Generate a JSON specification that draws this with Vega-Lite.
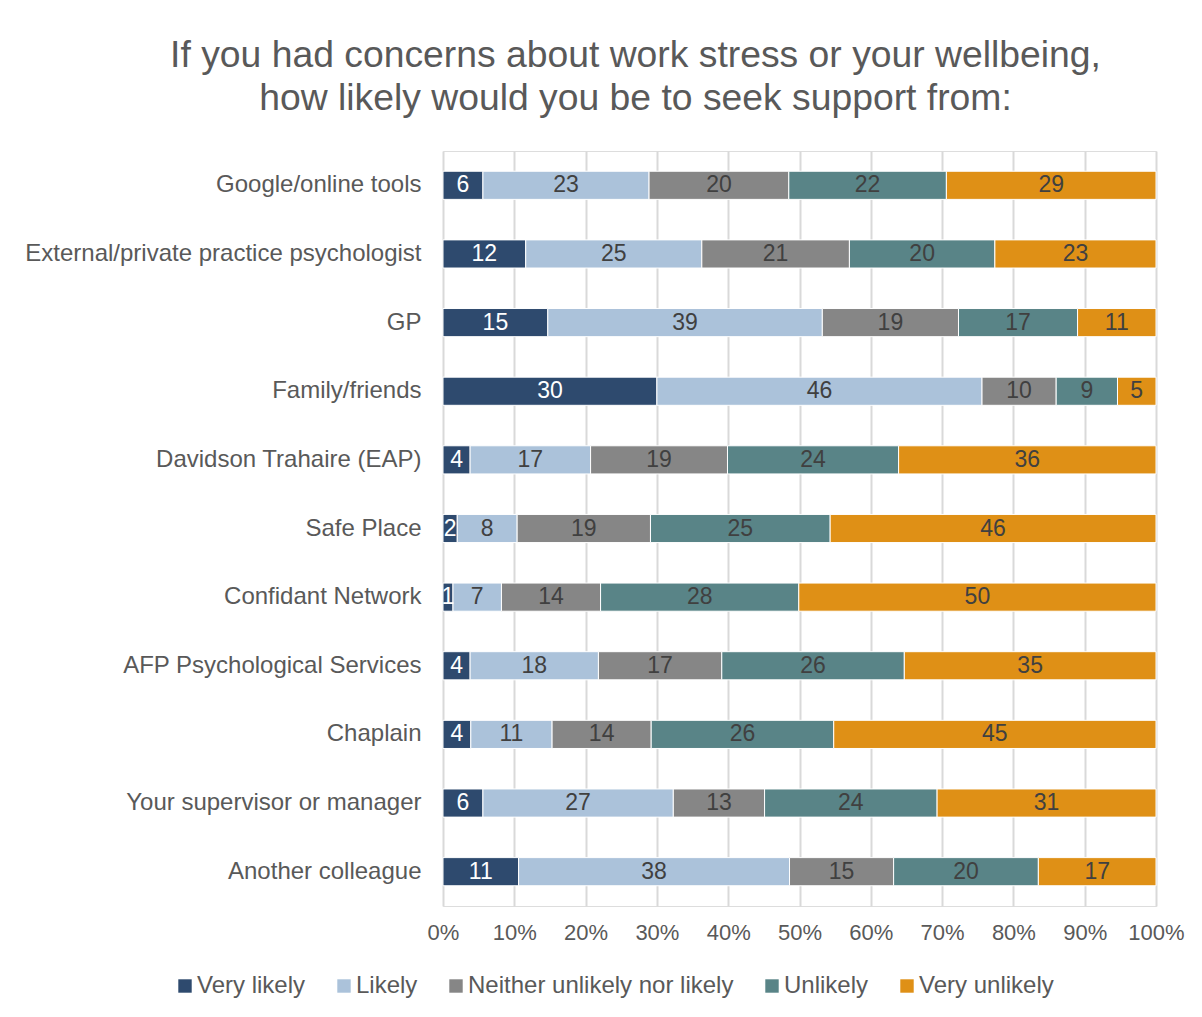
{
  "$schema": "https://vega.github.io/schema/vega-lite/v6.json",
  "width": 713,
  "height": 755,
  "autosize": {"type": "none"},
  "padding": {"left": 443, "top": 151, "right": 46, "bottom": 111},
  "background": "white",
  "title": {
    "text": ["If you had concerns about work stress or your wellbeing,", "how likely would you be to seek support from:"],
    "anchor": "middle",
    "frame": "group",
    "dx": -164,
    "offset": 33,
    "fontSize": 37.3,
    "lineHeight": 43,
    "font": "Liberation Sans",
    "fontWeight": "normal",
    "color": "#595959"
  },
  "data": {
    "values": [
      {"source": "Google/online tools", "response": "Very likely", "k": 1, "pct": 5.6},
      {"source": "Google/online tools", "response": "Likely", "k": 2, "pct": 23.3},
      {"source": "Google/online tools", "response": "Neither unlikely nor likely", "k": 3, "pct": 19.6},
      {"source": "Google/online tools", "response": "Unlikely", "k": 4, "pct": 22.1},
      {"source": "Google/online tools", "response": "Very unlikely", "k": 5, "pct": 29.4},
      {"source": "External/private practice psychologist", "response": "Very likely", "k": 1, "pct": 11.6},
      {"source": "External/private practice psychologist", "response": "Likely", "k": 2, "pct": 24.7},
      {"source": "External/private practice psychologist", "response": "Neither unlikely nor likely", "k": 3, "pct": 20.7},
      {"source": "External/private practice psychologist", "response": "Unlikely", "k": 4, "pct": 20.4},
      {"source": "External/private practice psychologist", "response": "Very unlikely", "k": 5, "pct": 22.6},
      {"source": "GP", "response": "Very likely", "k": 1, "pct": 14.7},
      {"source": "GP", "response": "Likely", "k": 2, "pct": 38.5},
      {"source": "GP", "response": "Neither unlikely nor likely", "k": 3, "pct": 19.1},
      {"source": "GP", "response": "Unlikely", "k": 4, "pct": 16.7},
      {"source": "GP", "response": "Very unlikely", "k": 5, "pct": 11.0},
      {"source": "Family/friends", "response": "Very likely", "k": 1, "pct": 30.0},
      {"source": "Family/friends", "response": "Likely", "k": 2, "pct": 45.6},
      {"source": "Family/friends", "response": "Neither unlikely nor likely", "k": 3, "pct": 10.4},
      {"source": "Family/friends", "response": "Unlikely", "k": 4, "pct": 8.6},
      {"source": "Family/friends", "response": "Very unlikely", "k": 5, "pct": 5.4},
      {"source": "Davidson Trahaire (EAP)", "response": "Very likely", "k": 1, "pct": 3.8},
      {"source": "Davidson Trahaire (EAP)", "response": "Likely", "k": 2, "pct": 16.9},
      {"source": "Davidson Trahaire (EAP)", "response": "Neither unlikely nor likely", "k": 3, "pct": 19.2},
      {"source": "Davidson Trahaire (EAP)", "response": "Unlikely", "k": 4, "pct": 24.0},
      {"source": "Davidson Trahaire (EAP)", "response": "Very unlikely", "k": 5, "pct": 36.1},
      {"source": "Safe Place", "response": "Very likely", "k": 1, "pct": 2.0},
      {"source": "Safe Place", "response": "Likely", "k": 2, "pct": 8.4},
      {"source": "Safe Place", "response": "Neither unlikely nor likely", "k": 3, "pct": 18.7},
      {"source": "Safe Place", "response": "Unlikely", "k": 4, "pct": 25.2},
      {"source": "Safe Place", "response": "Very unlikely", "k": 5, "pct": 45.7},
      {"source": "Confidant Network", "response": "Very likely", "k": 1, "pct": 1.4},
      {"source": "Confidant Network", "response": "Likely", "k": 2, "pct": 6.8},
      {"source": "Confidant Network", "response": "Neither unlikely nor likely", "k": 3, "pct": 13.9},
      {"source": "Confidant Network", "response": "Unlikely", "k": 4, "pct": 27.8},
      {"source": "Confidant Network", "response": "Very unlikely", "k": 5, "pct": 50.1},
      {"source": "AFP Psychological Services", "response": "Very likely", "k": 1, "pct": 3.8},
      {"source": "AFP Psychological Services", "response": "Likely", "k": 2, "pct": 18.0},
      {"source": "AFP Psychological Services", "response": "Neither unlikely nor likely", "k": 3, "pct": 17.3},
      {"source": "AFP Psychological Services", "response": "Unlikely", "k": 4, "pct": 25.6},
      {"source": "AFP Psychological Services", "response": "Very unlikely", "k": 5, "pct": 35.3},
      {"source": "Chaplain", "response": "Very likely", "k": 1, "pct": 3.9},
      {"source": "Chaplain", "response": "Likely", "k": 2, "pct": 11.4},
      {"source": "Chaplain", "response": "Neither unlikely nor likely", "k": 3, "pct": 13.9},
      {"source": "Chaplain", "response": "Unlikely", "k": 4, "pct": 25.6},
      {"source": "Chaplain", "response": "Very unlikely", "k": 5, "pct": 45.2},
      {"source": "Your supervisor or manager", "response": "Very likely", "k": 1, "pct": 5.6},
      {"source": "Your supervisor or manager", "response": "Likely", "k": 2, "pct": 26.7},
      {"source": "Your supervisor or manager", "response": "Neither unlikely nor likely", "k": 3, "pct": 12.8},
      {"source": "Your supervisor or manager", "response": "Unlikely", "k": 4, "pct": 24.2},
      {"source": "Your supervisor or manager", "response": "Very unlikely", "k": 5, "pct": 30.7},
      {"source": "Another colleague", "response": "Very likely", "k": 1, "pct": 10.6},
      {"source": "Another colleague", "response": "Likely", "k": 2, "pct": 38.0},
      {"source": "Another colleague", "response": "Neither unlikely nor likely", "k": 3, "pct": 14.6},
      {"source": "Another colleague", "response": "Unlikely", "k": 4, "pct": 20.3},
      {"source": "Another colleague", "response": "Very unlikely", "k": 5, "pct": 16.5}
    ]
  },
  "transform": [
    {"stack": "pct", "groupby": ["source"], "sort": [{"field": "k", "order": "ascending"}], "offset": "normalize", "as": ["x0", "x1"]},
    {"calculate": "(datum.x0 + datum.x1) / 2", "as": "xmid"}
  ],
  "encoding": {
    "y": {
      "field": "source",
      "type": "nominal",
      "sort": null,
      "title": null,
      "scale": {"paddingInner": 0.59, "paddingOuter": 0.295},
      "axis": {
        "domain": false,
        "ticks": false,
        "labelPadding": 22,
        "labelFontSize": 24,
        "labelFont": "Liberation Sans",
        "labelColor": "#595959",
        "labelLimit": 500
      }
    }
  },
  "layer": [
    {
      "mark": {"type": "bar", "stroke": "#ffffff", "strokeWidth": 1},
      "encoding": {
        "x": {
          "field": "x0",
          "type": "quantitative",
          "scale": {"domain": [0, 1], "nice": false},
          "title": null,
          "axis": {
            "values": [0, 0.1, 0.2, 0.3, 0.4, 0.5, 0.6, 0.7, 0.8, 0.9, 1],
            "format": ".0%",
            "domain": false,
            "ticks": false,
            "grid": true,
            "gridColor": "#D9D9D9",
            "gridWidth": 2,
            "labelPadding": 16,
            "labelFontSize": 22,
            "labelFont": "Liberation Sans",
            "labelColor": "#595959",
            "labelFlush": false
          }
        },
        "x2": {"field": "x1"},
        "color": {
          "field": "response",
          "type": "nominal",
          "scale": {
            "domain": ["Very likely", "Likely", "Neither unlikely nor likely", "Unlikely", "Very unlikely"],
            "range": ["#2E4A6E", "#ABC2DA", "#868686", "#598487", "#DF9016"]
          },
          "legend": {
            "title": null,
            "orient": "none",
            "direction": "horizontal",
            "legendX": -270,
            "legendY": 823,
            "symbolType": "square",
            "symbolSize": 180,
            "symbolStrokeWidth": 0,
            "labelFontSize": 24,
            "labelFont": "Liberation Sans",
            "labelColor": "#595959",
            "labelOffset": 0,
            "columnPadding": 26,
            "labelLimit": 400
          }
        }
      }
    },
    {
      "mark": {"type": "text", "fontSize": 23, "font": "Liberation Sans", "baseline": "middle", "align": "center"},
      "encoding": {
        "x": {"field": "xmid", "type": "quantitative"},
        "text": {"field": "pct", "type": "quantitative", "format": ".0f"},
        "color": {
          "condition": {"test": "datum.k === 1", "value": "#ffffff"},
          "value": "#404040"
        }
      }
    }
  ]
}
